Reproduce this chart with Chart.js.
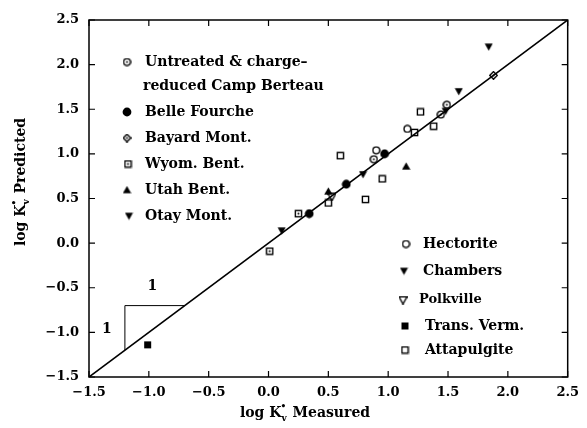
<!DOCTYPE html>
<html>
<head>
<meta charset="utf-8">
<script src="https://cdn.jsdelivr.net/npm/chart.js@4/dist/chart.umd.min.js"></script>
<style>
  html, body { margin: 0; padding: 0; background: #fff; }
  canvas { display: block; }
</style>
</head>
<body>
<canvas id="chart" width="587" height="428"></canvas>
<script>
// Data (log K measured vs log K predicted)
const untreatedX = [1.49, 1.44, 0.88];
const untreatedY = [1.55, 1.44, 0.94];
const belleX = [0.34, 0.65, 0.97];
const belleY = [0.33, 0.66, 1.00];
const bayardX = [1.88];
const bayardY = [1.88];
const wyomX = [0.01, 0.25];
const wyomY = [-0.09, 0.33];
const utahX = [0.50, 1.15];
const utahY = [0.58, 0.86];
const otayX = [0.11, 0.79, 1.84];
const otayY = [0.14, 0.77, 2.20];
const hectoriteX = [0.90, 1.16];
const hectoriteY = [1.04, 1.28];
const chambersX = [1.59, 1.48];
const chambersY = [1.70, 1.48];
const polkX = [0.53];
const polkY = [0.52];
const transX = [-1.01];
const transY = [-1.14];
const attaX = [0.50, 0.60, 0.81, 0.95, 1.22, 1.27, 1.38];
const attaY = [0.45, 0.98, 0.49, 0.72, 1.24, 1.47, 1.31];

const oneToOneX = [-1.5, 2.5];
const slopeX = [-1.2, -1.2, -0.7];
const slopeY = [-1.2, -0.7, -0.7];

const tickValues = [-1.5, -1.0, -0.5, 0.0, 0.5, 1.0, 1.5, 2.0, 2.5];

const FONT = 'DejaVu Serif';

// small canvases used as point styles
function makeMark(kind) {
    const s = kind === 'disc' ? 10 : 9;
    const c = document.createElement('canvas');
    c.width = c.height = s;
    const g = c.getContext('2d');
    const m = s / 2;
    g.strokeStyle = '#000';
    g.fillStyle = '#000';
    g.lineWidth = 1.4;
    const dot = () => { g.beginPath(); g.arc(m, m, 1, 0, Math.PI * 2); g.fill(); };
    if (kind === 'circleDot' || kind === 'circle') {
        g.beginPath(); g.arc(m, m, 3.4, 0, Math.PI * 2); g.stroke();
        if (kind === 'circleDot') dot();
    } else if (kind === 'disc') {
        g.beginPath(); g.arc(m, m, 4.4, 0, Math.PI * 2); g.fill();
    } else if (kind === 'diamondDot') {
        g.beginPath(); g.moveTo(m, m - 3.8); g.lineTo(m + 3.8, m); g.lineTo(m, m + 3.8); g.lineTo(m - 3.8, m); g.closePath(); g.stroke();
        dot();
    } else if (kind === 'squareDot' || kind === 'square') {
        g.strokeRect(1.4, 1.4, s - 2.8, s - 2.8);
        if (kind === 'squareDot') dot();
    } else if (kind === 'squareFill') {
        g.fillRect(1, 1, s - 2, s - 2);
    } else if (kind === 'triUp') {
        g.beginPath(); g.moveTo(m, 0.5); g.lineTo(s - 0.3, s - 1.3); g.lineTo(0.3, s - 1.3); g.closePath(); g.fill();
    } else if (kind === 'triDown' || kind === 'triDownOpen') {
        g.beginPath(); g.moveTo(0.5, 1.3); g.lineTo(s - 0.5, 1.3); g.lineTo(m, s - 0.5); g.closePath();
        if (kind === 'triDown') g.fill(); else g.stroke();
    }
    return c;
}

const marks = {};
['circleDot', 'circle', 'disc', 'diamondDot', 'squareDot', 'square', 'squareFill', 'triUp', 'triDown', 'triDownOpen']
    .forEach(k => marks[k] = makeMark(k));

const zip = (xs, ys) => xs.map((x, i) => ({ x, y: ys[i] }));

function series(label, xs, ys, mark) {
    return {
        label,
        data: zip(xs, ys),
        pointStyle: marks[mark],
        pointRadius: 5,
        showLine: false
    };
}

const datasets = [
    {
        label: '1:1',
        type: 'line',
        data: zip(oneToOneX, oneToOneX),
        borderColor: '#000',
        borderWidth: 1.6,
        pointRadius: 0,
        fill: false
    },
    {
        label: 'slope',
        type: 'line',
        data: zip(slopeX, slopeY),
        borderColor: '#000',
        borderWidth: 1,
        pointRadius: 0,
        fill: false
    },
    series('Untreated & charge-reduced Camp Berteau', untreatedX, untreatedY, 'circleDot'),
    series('Belle Fourche', belleX, belleY, 'disc'),
    series('Bayard Mont.', bayardX, bayardY, 'diamondDot'),
    series('Wyom. Bent.', wyomX, wyomY, 'squareDot'),
    series('Utah Bent.', utahX, utahY, 'triUp'),
    series('Otay Mont.', otayX, otayY, 'triDown'),
    series('Hectorite', hectoriteX, hectoriteY, 'circle'),
    series('Chambers', chambersX, chambersY, 'triDown'),
    series('Polkville', polkX, polkY, 'triDownOpen'),
    series('Trans. Verm.', transX, transY, 'squareFill'),
    series('Attapulgite', attaX, attaY, 'square')
];

// hand placed legends (positions in pixels)
const legendItems = [
    { mark: 'circleDot', text: 'Untreated & charge\u2013', mx: 127, tx: 145, y: 62 },
    { mark: null, text: 'reduced Camp Berteau', mx: 0, tx: 143, y: 86 },
    { mark: 'disc', text: 'Belle Fourche', mx: 127, tx: 145, y: 112 },
    { mark: 'diamondDot', text: 'Bayard Mont.', mx: 127, tx: 145, y: 138 },
    { mark: 'squareDot', text: 'Wyom. Bent.', mx: 128, tx: 145, y: 164 },
    { mark: 'triUp', text: 'Utah Bent.', mx: 127, tx: 145, y: 190 },
    { mark: 'triDown', text: 'Otay Mont.', mx: 129, tx: 145, y: 216 },
    { mark: 'circle', text: 'Hectorite', mx: 406, tx: 423, y: 244 },
    { mark: 'triDown', text: 'Chambers', mx: 404, tx: 423, y: 271 },
    { mark: 'triDownOpen', text: 'Polkville', mx: 403, tx: 419, y: 300, size: 13 },
    { mark: 'squareFill', text: 'Trans. Verm.', mx: 405, tx: 425, y: 326 },
    { mark: 'square', text: 'Attapulgite', mx: 405, tx: 425, y: 350 }
];

const decorPlugin = {
    id: 'decor',
    afterDraw(chart) {
        const { ctx, chartArea: a, scales: { x, y } } = chart;
        ctx.save();
        ctx.strokeStyle = '#000';
        ctx.fillStyle = '#000';

        // frame
        ctx.lineWidth = 1.5;
        ctx.strokeRect(a.left, a.top, a.right - a.left, a.bottom - a.top);

        // inward ticks on all four sides
        ctx.lineWidth = 1.2;
        ctx.beginPath();
        tickValues.forEach(v => {
            const px = x.getPixelForValue(v);
            const py = y.getPixelForValue(v);
            ctx.moveTo(px, a.bottom); ctx.lineTo(px, a.bottom - 6);
            ctx.moveTo(px, a.top); ctx.lineTo(px, a.top + 6);
            ctx.moveTo(a.left, py); ctx.lineTo(a.left + 6, py);
            ctx.moveTo(a.right, py); ctx.lineTo(a.right - 6, py);
        });
        ctx.stroke();

        // legends
        ctx.textBaseline = 'middle';
        ctx.textAlign = 'left';
        legendItems.forEach(it => {
            if (it.mark) {
                const m = marks[it.mark];
                ctx.drawImage(m, it.mx - m.width / 2, it.y - m.height / 2);
            }
            ctx.font = 'bold ' + (it.size || 14) + 'px "' + FONT + '"';
            ctx.fillText(it.text, it.tx, it.y);
        });

        // slope triangle labels
        ctx.font = 'bold 14px "' + FONT + '"';
        ctx.textAlign = 'center';
        ctx.fillText('1', x.getPixelForValue(-0.97), y.getPixelForValue(-0.49));
        ctx.fillText('1', x.getPixelForValue(-1.35), y.getPixelForValue(-0.97));

        // axis titles with K sub/superscripts
        drawTitle(ctx, 'Measured', 305, 412, 0);
        drawTitle(ctx, 'Predicted', 20, 182, -Math.PI / 2);
        ctx.restore();
    }
};

function drawTitle(ctx, word, cx, cy, rot) {
    ctx.save();
    ctx.translate(cx, cy);
    ctx.rotate(rot);
    ctx.textBaseline = 'alphabetic';
    ctx.textAlign = 'left';
    const big = 'bold 14px "' + FONT + '"';
    const small = 'bold 9px "' + FONT + '"';
    ctx.font = big;
    const w1 = ctx.measureText('log K').width;
    ctx.font = small;
    const ws = ctx.measureText('v').width;
    ctx.font = big;
    const w2 = ctx.measureText(' ' + word).width;
    const total = w1 + ws + 1 + w2;
    let xx = -total / 2;
    const base = 5;
    ctx.fillText('log K', xx, base);
    xx += w1;
    ctx.font = small;
    ctx.fillText('\u2022', xx - 1, base - 8);
    ctx.fillText('v', xx, base + 4);
    xx += ws + 1;
    ctx.font = big;
    ctx.fillText(' ' + word, xx, base);
    ctx.restore();
}

const fmt = v => (v < 0 ? '\u2212' : '') + Math.abs(v).toFixed(1);

new Chart(document.getElementById('chart'), {
    type: 'scatter',
    data: { datasets },
    options: {
        responsive: false,
        animation: false,
        devicePixelRatio: 1,
        layout: { padding: { top: 20, right: 11, left: 0, bottom: 0 } },
        plugins: { legend: { display: false }, tooltip: { enabled: false } },
        scales: {
            x: {
                type: 'linear',
                min: -1.5,
                max: 2.5,
                grid: { display: false, drawTicks: false },
                border: { display: false },
                ticks: {
                    stepSize: 0.5,
                    padding: 8,
                    color: '#000',
                    font: { family: FONT, size: 13, weight: 'bold' },
                    callback: fmt,
                    maxRotation: 0
                },
                afterFit(scale) { scale.height = 51; }
            },
            y: {
                type: 'linear',
                min: -1.5,
                max: 2.5,
                grid: { display: false, drawTicks: false },
                border: { display: false },
                ticks: {
                    stepSize: 0.5,
                    padding: 10,
                    color: '#000',
                    font: { family: FONT, size: 13, weight: 'bold' },
                    callback: fmt
                },
                afterFit(scale) { scale.width = 89; }
            }
        }
    },
    plugins: [decorPlugin]
});
</script>
</body>
</html>
